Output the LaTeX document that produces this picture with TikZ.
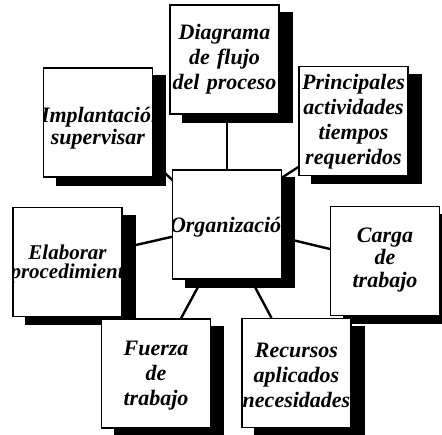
\documentclass[tikz,border=0pt]{standalone}
\usepackage{fontspec}
\setmainfont{Liberation Serif}
\usepackage{tikz}
\usetikzlibrary{positioning, calc}

\pgfdeclarelayer{linklayer}
\pgfdeclarelayer{shadowlayer}
\pgfsetlayers{linklayer,shadowlayer,main}

\tikzset{
  cardtext/.style={inner sep=0pt, text width=114pt, align=center},
  card/.style n args={3}{draw, fill=white, line width=1.2pt, minimum width=109pt, minimum height=109pt, inner sep=0pt,
    path picture={\node[cardtext, font={\fontsize#3\selectfont\bfseries\itshape}]
      at ($(path picture bounding box.center)+(0,#2)$) {#1};}},
  link/.style={line width=2.4pt},
  cardshadow/.style={fill=black}
}

\begin{document}
\begin{tikzpicture}[x=1pt, y=-1pt]
\useasboundingbox (0,0) rectangle (442,434);

\node[card={Diagrama\\de flujo\\del proceso}{0}{{22pt}{25pt}}] (diag) at (224.5,59.5) {};
\node[card={Implantación\\supervisar}{6}{{22pt}{22pt}}] (impl) at (98,122.5) {};
\node[card={Principales\\actividades\\tiempos\\requeridos}{1}{{22pt}{25pt}}] (prin) at (353.5,121) {};
\node[card={Organización}{2.5}{{22pt}{27pt}}] (org) at (227,224.5) {};
\node[card={Elaborar\\procedimientos}{1.5}{{21pt}{19pt}}] (elab) at (67.5,262) {};
\node[card={Carga\\de\\trabajo}{-1}{{22pt}{22.5pt}}] (carga) at (385,261) {};
\node[card={Fuerza\\de\\trabajo}{2}{{22pt}{25pt}}] (fuerza) at (156,373.5) {};
\node[card={Recursos\\aplicados\\necesidades}{2}{{22pt}{25pt}}] (recur) at (296.5,373) {};

% shadows behind the cards
\begin{pgfonlayer}{shadowlayer}
\foreach \n in {diag, impl, prin, org, elab, carga, fuerza, recur}
  \fill[cardshadow] ($(\n.south west)+(13,8)$) rectangle ($(\n.north east)+(13,8)$);
\end{pgfonlayer}

% links to the centre card
\begin{pgfonlayer}{linklayer}
\draw[link] (org.north) -- (org.north |- diag.south);
\draw[link] ($(impl.south east)+(5,-11)$) -- ($(org.north west)+(4,14)$);
\draw[link] ($(prin.south west)+(6,-13)$) -- ($(org.north east)+(-6,12)$);
\draw[link] ($(elab.east)+(0,-14)$) -- ($(org.west)+(8,10.5)$);
\draw[link] ($(carga.west)+(0,-12)$) -- ($(org.east)+(0,13)$);
\draw[link] ($(fuerza.north)+(25,0)$) -- ($(org.south)+(-25,0)$);
\draw[link] ($(recur.north)+(-25,0)$) -- ($(org.south)+(24,0)$);
\end{pgfonlayer}
\end{tikzpicture}
\end{document}
